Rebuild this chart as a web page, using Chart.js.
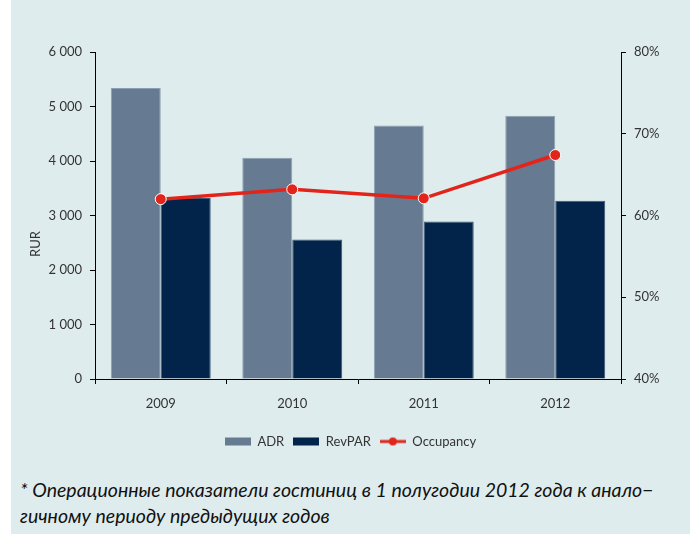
<!DOCTYPE html>
<html>
<head>
<meta charset="utf-8">
<script src="https://cdn.jsdelivr.net/npm/chart.js@4.4.1/dist/chart.umd.min.js"></script>
<style>
  body { margin: 0; background: #fff; }
  #panel { position: absolute; left: 11px; top: 0; width: 679px; height: 534px; background: #dfeced; }
  #chart { position: absolute; left: 0; top: 0; }
  #note {
    position: absolute; left: 9px; top: 477px; width: 675px;
    font-family: 'Lato', sans-serif; font-style: italic; font-size: 19.5px; line-height: 26px; color: #111;
    white-space: nowrap;
  }
</style>
</head>
<body>
<div id="panel">
  <canvas id="chart" width="679" height="462"></canvas>
  <div id="note">* Операционные показатели гостиниц в 1 полугодии 2012 года к анало−<br>гичному периоду предыдущих годов</div>
</div>
<script>
// Hotel operating stats, H1 of each year
const years = ['2009', '2010', '2011', '2012'];
const adr = [5340, 4060, 4650, 4830];
const revpar = [3320, 2560, 2890, 3270];
const occupancy = [62.0, 63.2, 62.1, 67.4];

const rurTicks = { min: 0, max: 6000, step: 1000 };
const pctTicks = { min: 40, max: 80, step: 10 };

const ADR_COLOR = '#667b91';
const REVPAR_COLOR = '#02244a';
const OCC_COLOR = '#e3241b';
const FONT = 'Lato, sans-serif';

// little legend icons: boxes for the bars, line with a dot for occupancy
function legendIcon(kind, color) {
    const c = document.createElement('canvas');
    c.width = 26; c.height = 10;
    const g = c.getContext('2d');
    if (kind === 'box') {
        g.fillStyle = color;
        g.fillRect(0, 1, 26, 8);
    } else {
        g.strokeStyle = color;
        g.lineWidth = 3;
        g.beginPath(); g.moveTo(0, 5); g.lineTo(26, 5); g.stroke();
        g.fillStyle = color;
        g.beginPath(); g.arc(13, 5, 4, 0, Math.PI * 2); g.fill();
    }
    return c;
}

function spaced(v) {
    return String(v).replace(/\B(?=(\d{3})+(?!\d))/g, ' ');
}

// y axis title sits a bit lower than the axis middle in the original
const rurTitle = {
    id: 'rurTitle',
    afterDraw(chart) {
        const ctx = chart.ctx;
        ctx.save();
        ctx.translate(25, 244);
        ctx.rotate(-Math.PI / 2);
        ctx.font = '13px ' + FONT;
        ctx.fillStyle = '#333';
        ctx.textAlign = 'center';
        ctx.textBaseline = 'middle';
        ctx.fillText('RUR', 0, 0);
        ctx.restore();
    }
};

new Chart(document.getElementById('chart'), {
    type: 'bar',
    data: {
        labels: years,
        datasets: [{
            label: 'ADR',
            data: adr,
            backgroundColor: ADR_COLOR,
            borderColor: '#8c9fb2',
            borderWidth: 1,
            yAxisID: 'y',
            order: 2
        }, {
            label: 'RevPAR',
            data: revpar,
            backgroundColor: REVPAR_COLOR,
            borderColor: '#3b5573',
            borderWidth: 1,
            yAxisID: 'y',
            order: 2
        }, {
            type: 'line',
            label: 'Occupancy',
            data: occupancy,
            borderColor: OCC_COLOR,
            backgroundColor: OCC_COLOR,
            borderWidth: 3.5,
            pointRadius: 5.5,
            pointBackgroundColor: OCC_COLOR,
            pointBorderColor: '#fff',
            pointBorderWidth: 1,
            yAxisID: 'y1',
            order: 1
        }]
    },
    options: {
        responsive: false,
        animation: false,
        categoryPercentage: 0.76,
        barPercentage: 1,
        layout: { padding: { top: 52, left: 0, right: 0, bottom: 4 } },
        plugins: {
            legend: {
                position: 'bottom',
                labels: {
                    usePointStyle: true,
                    pointStyleWidth: 26,
                    boxHeight: 10,
                    padding: 9,
                    color: '#333',
                    font: { family: FONT, size: 13 },
                    generateLabels(chart) {
                        const icons = [legendIcon('box', ADR_COLOR), legendIcon('box', REVPAR_COLOR), legendIcon('line', OCC_COLOR)];
                        return chart.data.datasets.map((ds, i) => ({
                            text: ds.label,
                            pointStyle: icons[i],
                            fillStyle: 'transparent',
                            strokeStyle: 'transparent',
                            lineWidth: 0,
                            fontColor: '#333',
                            datasetIndex: i
                        }));
                    }
                }
            },
            tooltip: { enabled: false }
        },
        scales: {
            x: {
                grid: { offset: true, drawOnChartArea: false, tickLength: 5, color: '#000' },
                border: { color: '#000' },
                ticks: { color: '#333', padding: 12, font: { family: FONT, size: 13 } },
                afterFit(scale) { scale.height = 47; }
            },
            y: {
                position: 'left',
                min: rurTicks.min, max: rurTicks.max,
                grid: { drawOnChartArea: false, tickLength: 5, color: '#000' },
                border: { color: '#000' },
                ticks: {
                    stepSize: rurTicks.step, color: '#333', padding: 8,
                    font: { family: FONT, size: 13 },
                    callback: v => spaced(v)
                },
                afterFit(scale) { scale.width = 84; }
            },
            y1: {
                position: 'right',
                min: pctTicks.min, max: pctTicks.max,
                grid: { drawOnChartArea: false, tickLength: 5, color: '#000' },
                border: { color: '#000' },
                ticks: {
                    stepSize: pctTicks.step, color: '#333', padding: 8,
                    font: { family: FONT, size: 13 },
                    callback: v => v + '%'
                },
                afterFit(scale) { scale.width = 69; }
            }
        }
    },
    plugins: [rurTitle]
});
</script>
</body>
</html>
